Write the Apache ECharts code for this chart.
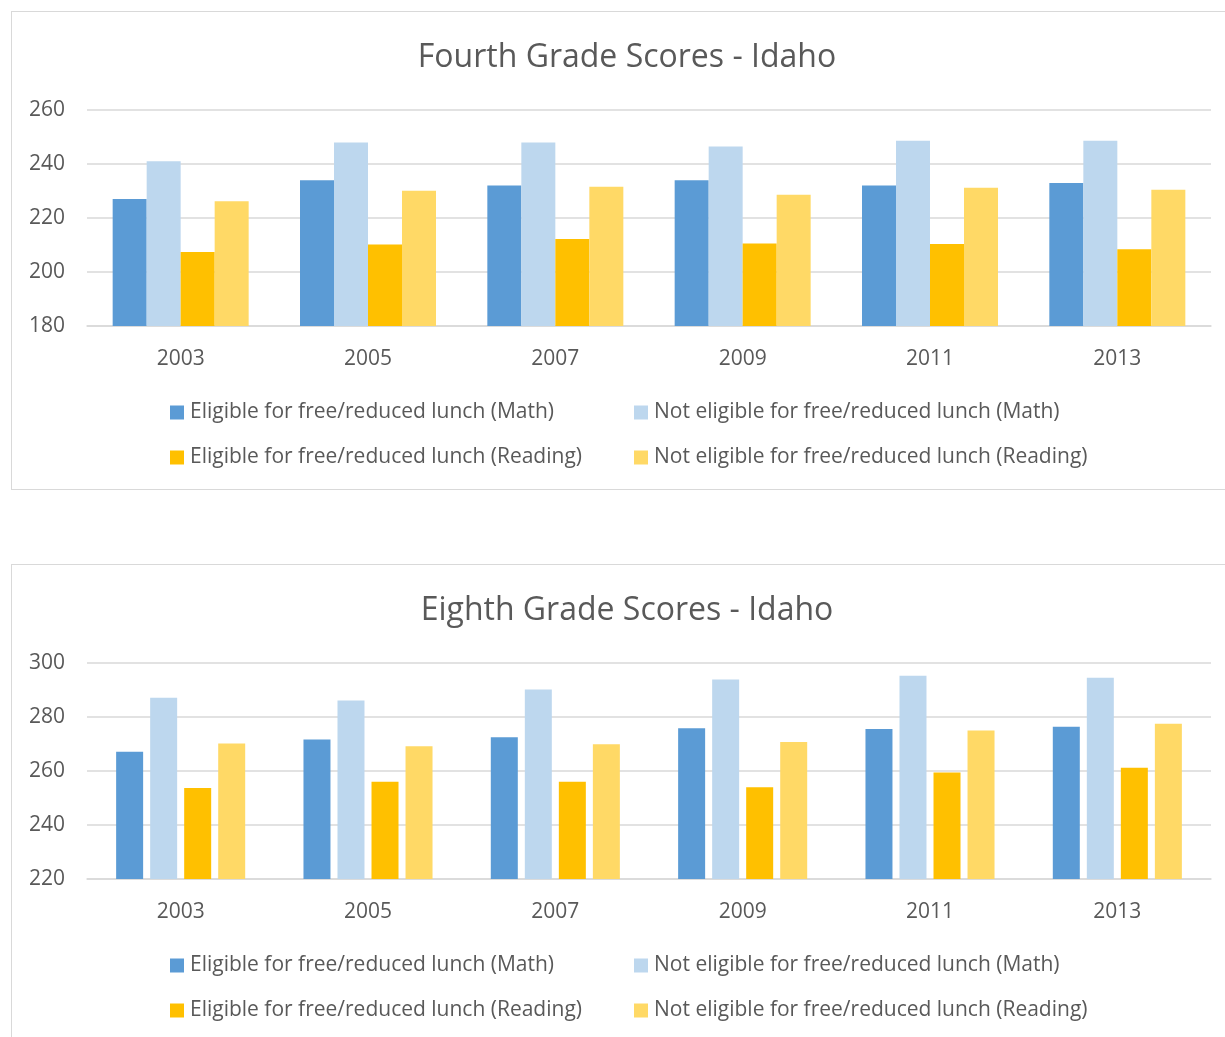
<!DOCTYPE html>
<html>
<head>
<meta charset="utf-8">
<script src="https://cdn.jsdelivr.net/npm/echarts@6/dist/echarts.min.js"></script>
<style>
    body { margin: 0; background: #fff; }
    .box { position: absolute; left: 11px; width: 1230px; height: 477px; border: 1px solid #d9d9d9; background: #fff; }
    #chart4 { top: 11px; }
    #chart8 { top: 564px; }
</style>
</head>
<body>
<div id="chart4" class="box"></div>
<div id="chart8" class="box"></div>
<script>
var years = ['2003', '2005', '2007', '2009', '2011', '2013'];
var seriesNames = [
    'Eligible for free/reduced lunch (Math)',
    'Not eligible for free/reduced lunch (Math)',
    'Eligible for free/reduced lunch (Reading)',
    'Not eligible for free/reduced lunch (Reading)'
];

// fourth grade
var g4MathElig = [227, 234, 232, 234, 232, 233];
var g4MathNot = [241, 248, 248, 246.5, 248.6, 248.6];
var g4ReadElig = [207.4, 210.2, 212.2, 210.6, 210.4, 208.4];
var g4ReadNot = [226.2, 230.1, 231.6, 228.6, 231.2, 230.5];

// eighth grade
var g8MathElig = [267.1, 271.7, 272.5, 275.8, 275.6, 276.4];
var g8MathNot = [287.1, 286.1, 290.2, 293.9, 295.3, 294.5];
var g8ReadElig = [253.7, 256, 256, 254, 259.4, 261.2];
var g8ReadNot = [270.2, 269.2, 269.9, 270.7, 275, 277.5];

var colors = ['#5B9BD5', '#BDD7EE', '#FFC000', '#FFD966'];
var textColor = '#595959';
var font = 'Open Sans';

function makeOption(title, yMin, yMax, data, barWidth, barGap) {
    var legendPos = [[153, 385], [617, 385], [153, 430], [617, 430]];
    var legends = [];
    var series = [];
    for (var i = 0; i < 4; i++) {
        legends.push({
            data: [seriesNames[i]],
            left: legendPos[i][0],
            top: legendPos[i][1],
            icon: 'rect',
            itemWidth: 14,
            itemHeight: 14,
            itemGap: 0,
            selectedMode: false,
            textStyle: { color: textColor, fontFamily: font, fontSize: 21, padding: [0, 0, 0, 1] }
        });
        series.push({
            name: seriesNames[i],
            type: 'bar',
            barWidth: barWidth,
            barGap: barGap,
            itemStyle: { color: colors[i] },
            data: data[i]
        });
    }
    return {
        animation: false,
        title: {
            text: title,
            left: 'center',
            top: 25,
            textStyle: { color: textColor, fontFamily: font, fontSize: 32, fontWeight: 'normal' }
        },
        legend: legends,
        grid: { left: 75, top: 98, width: 1124, height: 216 },
        xAxis: {
            type: 'category',
            data: years,
            axisTick: { show: false },
            axisLine: { lineStyle: { color: '#d9d9d9', width: 1.5 } },
            axisLabel: { color: textColor, fontFamily: font, fontSize: 21, margin: 23 }
        },
        yAxis: {
            type: 'value',
            min: yMin,
            max: yMax,
            interval: 20,
            axisLine: { show: false },
            axisTick: { show: false },
            splitLine: { lineStyle: { color: '#d9d9d9', width: 1.5 } },
            axisLabel: { color: textColor, fontFamily: font, fontSize: 21, margin: 22 }
        },
        series: series
    };
}

var chart4 = echarts.init(document.getElementById('chart4'));
chart4.setOption(makeOption('Fourth Grade Scores - Idaho', 180, 260,
    [g4MathElig, g4MathNot, g4ReadElig, g4ReadNot], 34, '0%'));

var chart8 = echarts.init(document.getElementById('chart8'));
chart8.setOption(makeOption('Eighth Grade Scores - Idaho', 220, 300,
    [g8MathElig, g8MathNot, g8ReadElig, g8ReadNot], 27, '26%'));
</script>
</body>
</html>
